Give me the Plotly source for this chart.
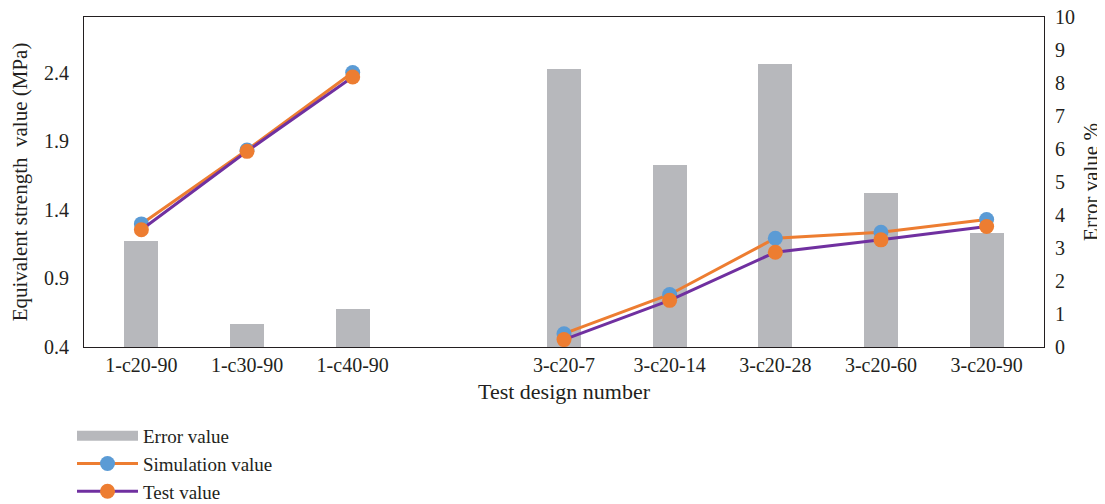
import plotly.graph_objects as go

categories = ["1-c20-90", "1-c30-90", "1-c40-90", " ", "3-c20-7", "3-c20-14", "3-c20-28", "3-c20-60", "3-c20-90"]
error_value = [3.2, 0.71, 1.16, None, 8.42, 5.52, 8.59, 4.66, 3.45]
simulation_value = [1.297, 1.836, 2.40, None, 0.497, 0.783, 1.193, 1.236, 1.329]
test_value = [1.254, 1.826, 2.368, None, 0.454, 0.740, 1.091, 1.181, 1.278]

FONT = "Liberation Serif"
TXT = "#231F20"
GREY = "#B7B8BC"

fig = go.Figure()
fig.add_trace(go.Bar(x=categories, y=error_value, name="Error value",
                     marker=dict(color=GREY, line=dict(width=0)),
                     width=0.32, yaxis="y", showlegend=False))
# legend entry for the bars (wide grey swatch)
fig.add_trace(go.Scatter(x=[None], y=[None], name="Error value", mode="lines",
                         line=dict(color=GREY, width=13), yaxis="y"))
fig.add_trace(go.Scatter(x=categories, y=simulation_value, name="Simulation value",
                         mode="lines+markers", connectgaps=False,
                         line=dict(color="#ED7D31", width=3),
                         marker=dict(color="#5B9BD5", size=15), yaxis="y2"))
fig.add_trace(go.Scatter(x=categories, y=test_value, name="Test value",
                         mode="lines+markers", connectgaps=False,
                         line=dict(color="#7030A0", width=3),
                         marker=dict(color="#ED7D31", size=15), yaxis="y2"))

fig.update_layout(
    width=1105, height=504,
    margin=dict(l=76, r=69, t=9, b=165),
    paper_bgcolor="white", plot_bgcolor="white",
    font=dict(family=FONT, size=20, color=TXT),
    bargap=0,
    xaxis=dict(type="category", categoryorder="array", categoryarray=categories,
               showline=True, linecolor="#231F20", linewidth=1, mirror=True,
               ticks="", showgrid=False, automargin=False,
               title=dict(text="Test design number", font=dict(size=22), standoff=8)),
    yaxis=dict(side="right", range=[0, 10], tickvals=list(range(0, 11)),
               showline=True, linecolor="#231F20", linewidth=1,
               showgrid=False, zeroline=False, ticks="", automargin=False,
               ticklabelstandoff=6, ticklabeloverflow="allow",
               title=dict(text="Error value %", font=dict(size=21), standoff=9)),
    yaxis2=dict(side="left", overlaying="y", range=[0.4, 2.805],
                tickvals=[0.4, 0.9, 1.4, 1.9, 2.4], ticktext=["0.4", "0.9", "1.4", "1.9", "2.4"],
                showline=True, linecolor="#231F20", linewidth=1,
                showgrid=False, zeroline=False, ticks="", automargin=False,
                ticklabelstandoff=10, ticklabeloverflow="allow",
                title=dict(text="Equivalent strength&nbsp;&nbsp;value (MPa)", font=dict(size=21), standoff=16)),
    legend=dict(orientation="v", x=-12 / 960, xanchor="left",
                yref="container", y=(504 - 409) / 504, yanchor="top",
                font=dict(size=19), itemwidth=61, bgcolor="rgba(0,0,0,0)", tracegroupgap=0),
    showlegend=True,
)

fig.write_html("out.html")
